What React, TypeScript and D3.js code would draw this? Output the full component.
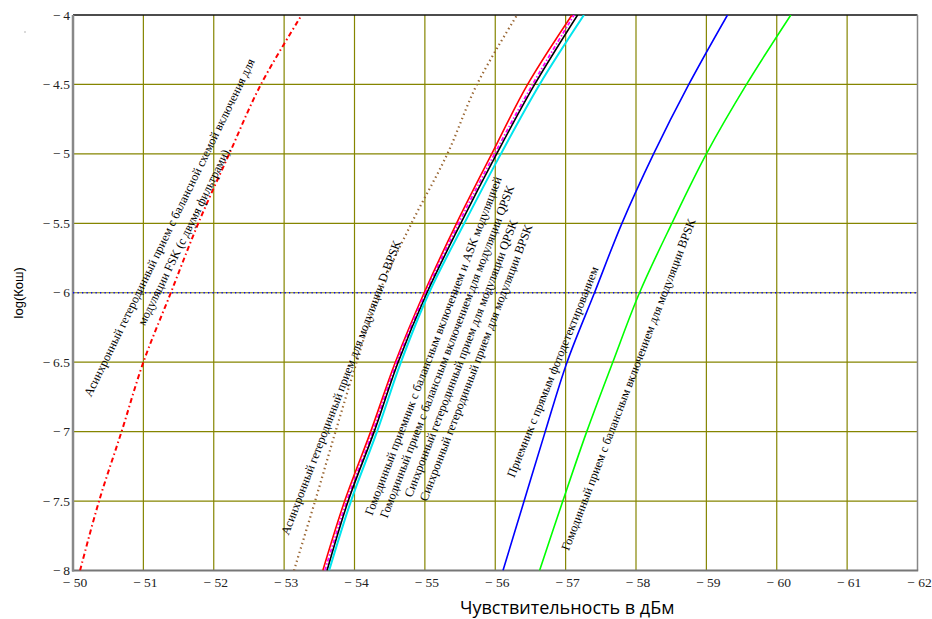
import React from "react";
import * as d3 from "d3";

const W = 932;
const H = 619;

const xTicks = [-50, -51, -52, -53, -54, -55, -56, -57, -58, -59, -60, -61, -62];
const yTicks = [-4, -4.5, -5, -5.5, -6, -6.5, -7, -7.5, -8];

// log(Kош) levels at which each curve was read
const levels = [-8, -7.5, -7, -6.5, -6, -5.5, -5, -4.5, -4];

const fskAsync = [-50.1, -50.37, -50.69, -51.0, -51.39, -51.78, -52.22, -52.67, -53.25];
const dbpskAsync = [-53.14, -53.44, -53.73, -54.03, -54.35, -54.81, -55.32, -55.74, -56.31];
const homodyneASK = [-53.55, -53.86, -54.23, -54.58, -54.99, -55.45, -55.95, -56.46, -57.09];
const homodyneQPSK = [-53.58, -53.89, -54.26, -54.6, -55.01, -55.48, -55.99, -56.53, -57.12];
const syncQPSK = [-53.61, -53.91, -54.28, -54.62, -55.03, -55.51, -56.02, -56.56, -57.17];
const syncBPSK = [-53.64, -53.95, -54.32, -54.66, -55.06, -55.56, -56.08, -56.63, -57.26];
const directDetect = [-56.11, -56.41, -56.71, -57.02, -57.41, -57.8, -58.25, -58.75, -59.3];
const homodyneBPSK = [-56.63, -56.96, -57.3, -57.67, -58.05, -58.51, -59.0, -59.57, -60.2];

const threshold = -6;

const series = [
  { name: "fsk", xs: fskAsync, color: "#ff0000", width: 2, dash: "5,3,1.5,3" },
  { name: "dbpsk", xs: dbpskAsync, color: "#996633", width: 2.2, dash: "1.4,3.2" },
  { name: "homASK", xs: homodyneASK, color: "#ff0000", width: 1.6, dash: null },
  { name: "homQPSK", xs: homodyneQPSK, color: "#ff00ff", width: 1.8, dash: "4,2,1.5,2" },
  { name: "syncQPSK", xs: syncQPSK, color: "#000000", width: 1.6, dash: null },
  { name: "syncBPSK", xs: syncBPSK, color: "#00e5ee", width: 2, dash: null },
  { name: "direct", xs: directDetect, color: "#0000ff", width: 1.6, dash: null },
  { name: "homBPSK", xs: homodyneBPSK, color: "#00ff00", width: 1.6, dash: null },
];

const labels = [
  { text: "Асинхронный гетеродинный прием с балансной схемой включения для", x: -51.367, y: -5.53, angle: -64 },
  { text: "модуляции FSK (с двумя фильтрами).", x: -51.577, y: -5.591, angle: -64 },
  { text: "Асинхронный гетеродинный прием для модуляции D-BPSK", x: -53.805, y: -6.682, angle: -69 },
  { text: "Гомодинный приемник с балансным включением и ASK модуляцией", x: -55.115, y: -6.382, angle: -69 },
  { text: "Гомодинный прием с балансным включением для модуляции QPSK", x: -55.312, y: -6.423, angle: -69 },
  { text: "Синхронный гетеродинный прием для модуляции QPSK", x: -55.51, y: -6.472, angle: -69 },
  { text: "Синхронный гетеродинный прием для модуляции BPSK", x: -55.724, y: -6.502, angle: -69 },
  { text: "Приемник с прямым фотодетектированием", x: -56.813, y: -6.569, angle: -68 },
  { text: "Гомодинный прием с балансным включением для модуляции BPSK", x: -57.891, y: -6.659, angle: -69 },
];

const fmt = (v: number) => "\u2212 " + String(Math.abs(v));
const fmtY = (v: number) => "\u2212\u2009" + String(Math.abs(v));

export default function App() {
  const left = 73;
  const right = 917.5;
  const top = 15;
  const bottom = 570.5;
  const x = d3.scaleLinear().domain([-50, -62]).range([left, right]);
  const y = d3.scaleLinear().domain([-4, -8]).range([top, bottom]);

  const line = d3
    .line<[number, number]>()
    .x((d) => x(d[0]))
    .y((d) => y(d[1]))
    .curve(d3.curveCatmullRom.alpha(0.5));

  const grid = "#858500";
  const serif = "Liberation Serif, Times New Roman, DejaVu Serif, serif";

  return (
    <div style={{ position: "fixed", left: 0, top: 0 }}>
      <svg width={W} height={H} style={{ display: "block", background: "#fff" }}>
        <defs>
          <clipPath id="plot">
            <rect x={left} y={top} width={right - left} height={bottom - top} />
          </clipPath>
        </defs>
        {/* grid */}
        {xTicks.slice(1, -1).map((t) => (
          <line key={"gx" + t} x1={x(t)} x2={x(t)} y1={top} y2={bottom} stroke={grid} strokeWidth={1.2} />
        ))}
        {yTicks.slice(1, -1).map((t) => (
          <line key={"gy" + t} x1={left} x2={right} y1={y(t)} y2={y(t)} stroke={grid} strokeWidth={1.2} />
        ))}
        {/* frame */}
        <line x1={left} x2={right} y1={top} y2={top} stroke="#111" strokeWidth={1.3} />
        <line x1={right} x2={right} y1={top} y2={bottom} stroke="#888" strokeWidth={1.5} />
        <line x1={left - 1} x2={right + 0.7} y1={bottom} y2={bottom} stroke="#777" strokeWidth={2} />
        <line x1={left} x2={left} y1={top} y2={bottom + 1} stroke="#888" strokeWidth={2.5} />

        {/* threshold */}
        <line
          x1={left}
          x2={right}
          y1={y(threshold)}
          y2={y(threshold)}
          stroke="#0000ff"
          strokeWidth={1.6}
          strokeDasharray="1.3,3.2"
        />

        {/* curves */}
        <g clipPath="url(#plot)">
          {series.map((s) => (
            <path
              key={s.name}
              d={line(s.xs.map((v, i) => [v, levels[i]] as [number, number])) || ""}
              fill="none"
              stroke={s.color}
              strokeWidth={s.width}
              strokeDasharray={s.dash || undefined}
            />
          ))}
        </g>

        {/* curve labels */}
        {labels.map((l, i) => (
          <text
            key={"l" + i}
            transform={`translate(${x(l.x)},${y(l.y)}) rotate(${l.angle})`}
            textAnchor="middle"
            dy="0.35em"
            fontFamily={serif}
            fontSize={12.3}
            fill="#000"
          >
            {l.text}
          </text>
        ))}

        {/* tick labels */}
        {xTicks.map((t) => (
          <text key={"tx" + t} x={x(t) + 2} y={587} textAnchor="middle" fontFamily={serif} fontSize={13.5} fill="#222">
            {fmt(t)}
          </text>
        ))}
        {yTicks.map((t) => (
          <text key={"ty" + t} x={70} y={y(t) + 4.5} textAnchor="end" fontFamily={serif} fontSize={13.5} fill="#222">
            {fmtY(t)}
          </text>
        ))}

        {/* axis titles */}
        <text
          transform={`translate(23,${(top + bottom) / 2}) rotate(-90)`}
          textAnchor="middle"
          fontFamily="Liberation Sans, Arial, sans-serif"
          fontSize={13}
          fill="#000"
        >
          log(Кош)
        </text>
        <text x={460} y={614} fontFamily="Open Sans, Noto Sans, sans-serif" fontSize={18} fill="#000">
          Чувствительность в дБм
        </text>
        <circle cx={25} cy={32} r={0.7} fill="#999" />
      </svg>
    </div>
  );
}
